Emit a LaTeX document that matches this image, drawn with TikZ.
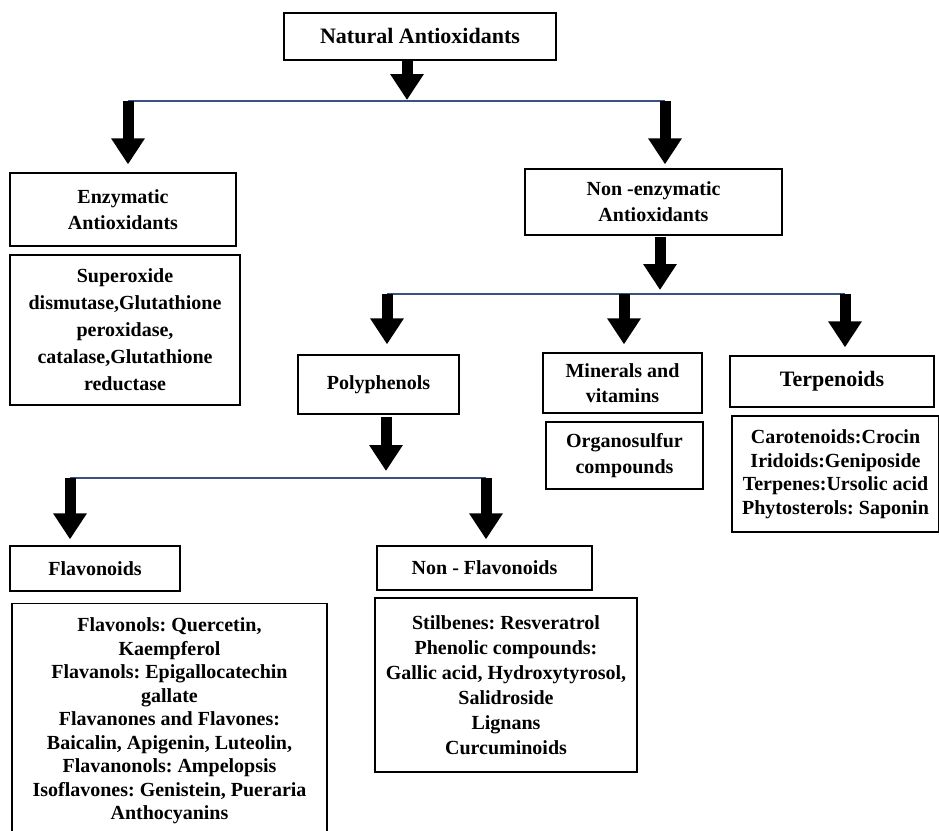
\documentclass[tikz,border=0pt]{standalone}
\usepackage{fontspec}
\setmainfont{Liberation Serif}
\usetikzlibrary{arrows.meta}
\definecolor{linkblue}{RGB}{60,80,130}
\tikzset{
  box/.style={draw=black, line width=1.3pt, inner sep=0pt, align=center, font=\bfseries\frenchspacing\fontsize{20}{26}\selectfont},
  barrow/.style={draw=black, line width=11pt, -{Triangle[width=32pt,length=26pt]}},
  hline/.style={draw=linkblue, line width=1.8pt}
}
\begin{document}
\begin{tikzpicture}[x=1pt,y=-1pt]
\useasboundingbox (0,0) rectangle (939,830);
% boxes
\node[box, minimum width=272, minimum height=47, font=\bfseries\frenchspacing\fontsize{22}{26}\selectfont] (nat) at (420,36.5) {Natural Antioxidants};
\node[box, minimum width=226, minimum height=73] (enz) at (123,209.5) {Enzymatic\\Antioxidants};
\node[box, minimum width=230, minimum height=150, font=\bfseries\frenchspacing\fontsize{20}{27}\selectfont] (sod) at (125,330) {Superoxide\\dismutase,Glutathione\\peroxidase,\\catalase,Glutathione\\reductase};
\node[box, minimum width=257, minimum height=66] (nonenz) at (653.5,202) {Non -enzymatic\\Antioxidants};
\node[box, minimum width=161, minimum height=59] (poly) at (378.5,384.5) {Polyphenols};
\node[box, minimum width=159, minimum height=60, font=\bfseries\frenchspacing\fontsize{20}{25}\selectfont] (minv) at (622.5,383) {Minerals and\\vitamins};
\node[box, minimum width=157, minimum height=67] (orgs) at (624.5,455.5) {Organosulfur\\compounds};
\node[box, minimum width=204, minimum height=51, font=\bfseries\frenchspacing\fontsize{22}{26}\selectfont] (terp) at (832,381.5) {Terpenoids};
\node[box, minimum width=207, minimum height=116, font=\bfseries\frenchspacing\fontsize{20}{23.5}\selectfont] (carot) at (835.5,474) {Carotenoids:Crocin\\Iridoids:Geniposide\\Terpenes:Ursolic acid\\Phytosterols: Saponin};
\node[box, minimum width=170, minimum height=45] (flav) at (95,568.5) {Flavonoids};
\node[box, minimum width=215, minimum height=44] (nonflav) at (484.5,568) {Non - Flavonoids};
\node[box, anchor=north, minimum width=315, inner ysep=14pt, font=\bfseries\frenchspacing\fontsize{20}{23.5}\selectfont] (flist) at (169.5,603) {Flavonols: Quercetin,\\Kaempferol\\Flavanols: Epigallocatechin\\gallate\\Flavanones and Flavones:\\Baicalin, Apigenin, Luteolin,\\Flavanonols: Ampelopsis\\Isoflavones: Genistein, Pueraria\\Anthocyanins};
\node[box, minimum width=262, minimum height=174, font=\bfseries\frenchspacing\fontsize{20}{25}\selectfont] (stil) at (506,685) {Stilbenes: Resveratrol\\Phenolic compounds:\\Gallic acid, Hydroxytyrosol,\\Salidroside\\Lignans\\Curcuminoids};
% junction coordinates
\coordinate (j1) at (407,101);
\coordinate (l1a) at (128,101);
\coordinate (l1b) at (665,101);
\coordinate (j2) at (660,294);
\coordinate (l2a) at (387,294);
\coordinate (l2b) at (624,294);
\coordinate (l2c) at (845,294);
\coordinate (j3) at (386,478);
\coordinate (l3a) at (70,478);
\coordinate (l3b) at (486,478);
% horizontal lines
\draw[hline] (l1a) -- (l1b);
\draw[hline] (l2a) -- (l2c);
\draw[hline] (l3a) -- (l3b);
% arrows
\draw[barrow, shorten >=1pt] (nat.south -| j1) -- (j1);
\draw[barrow, shorten >=8pt] (l1a) -- (enz.north -| l1a);
\draw[barrow, shorten >=4pt] (l1b) -- (nonenz.north -| l1b);
\draw[barrow, shorten >=4pt] ([yshift=-1pt]nonenz.south -| j2) -- (j2);
\draw[barrow, shorten >=10pt] (l2a) -- (poly.north -| l2a);
\draw[barrow, shorten >=8pt] (l2b) -- (minv.north -| l2b);
\draw[barrow, shorten >=8pt] (l2c) -- (terp.north -| l2c);
\draw[barrow, shorten >=7pt] ([yshift=-2pt]poly.south -| j3) -- (j3);
\draw[barrow, shorten >=6pt] (l3a) -- (flav.north -| l3a);
\draw[barrow, shorten >=6pt] (l3b) -- (nonflav.north -| l3b);
\end{tikzpicture}
\end{document}
